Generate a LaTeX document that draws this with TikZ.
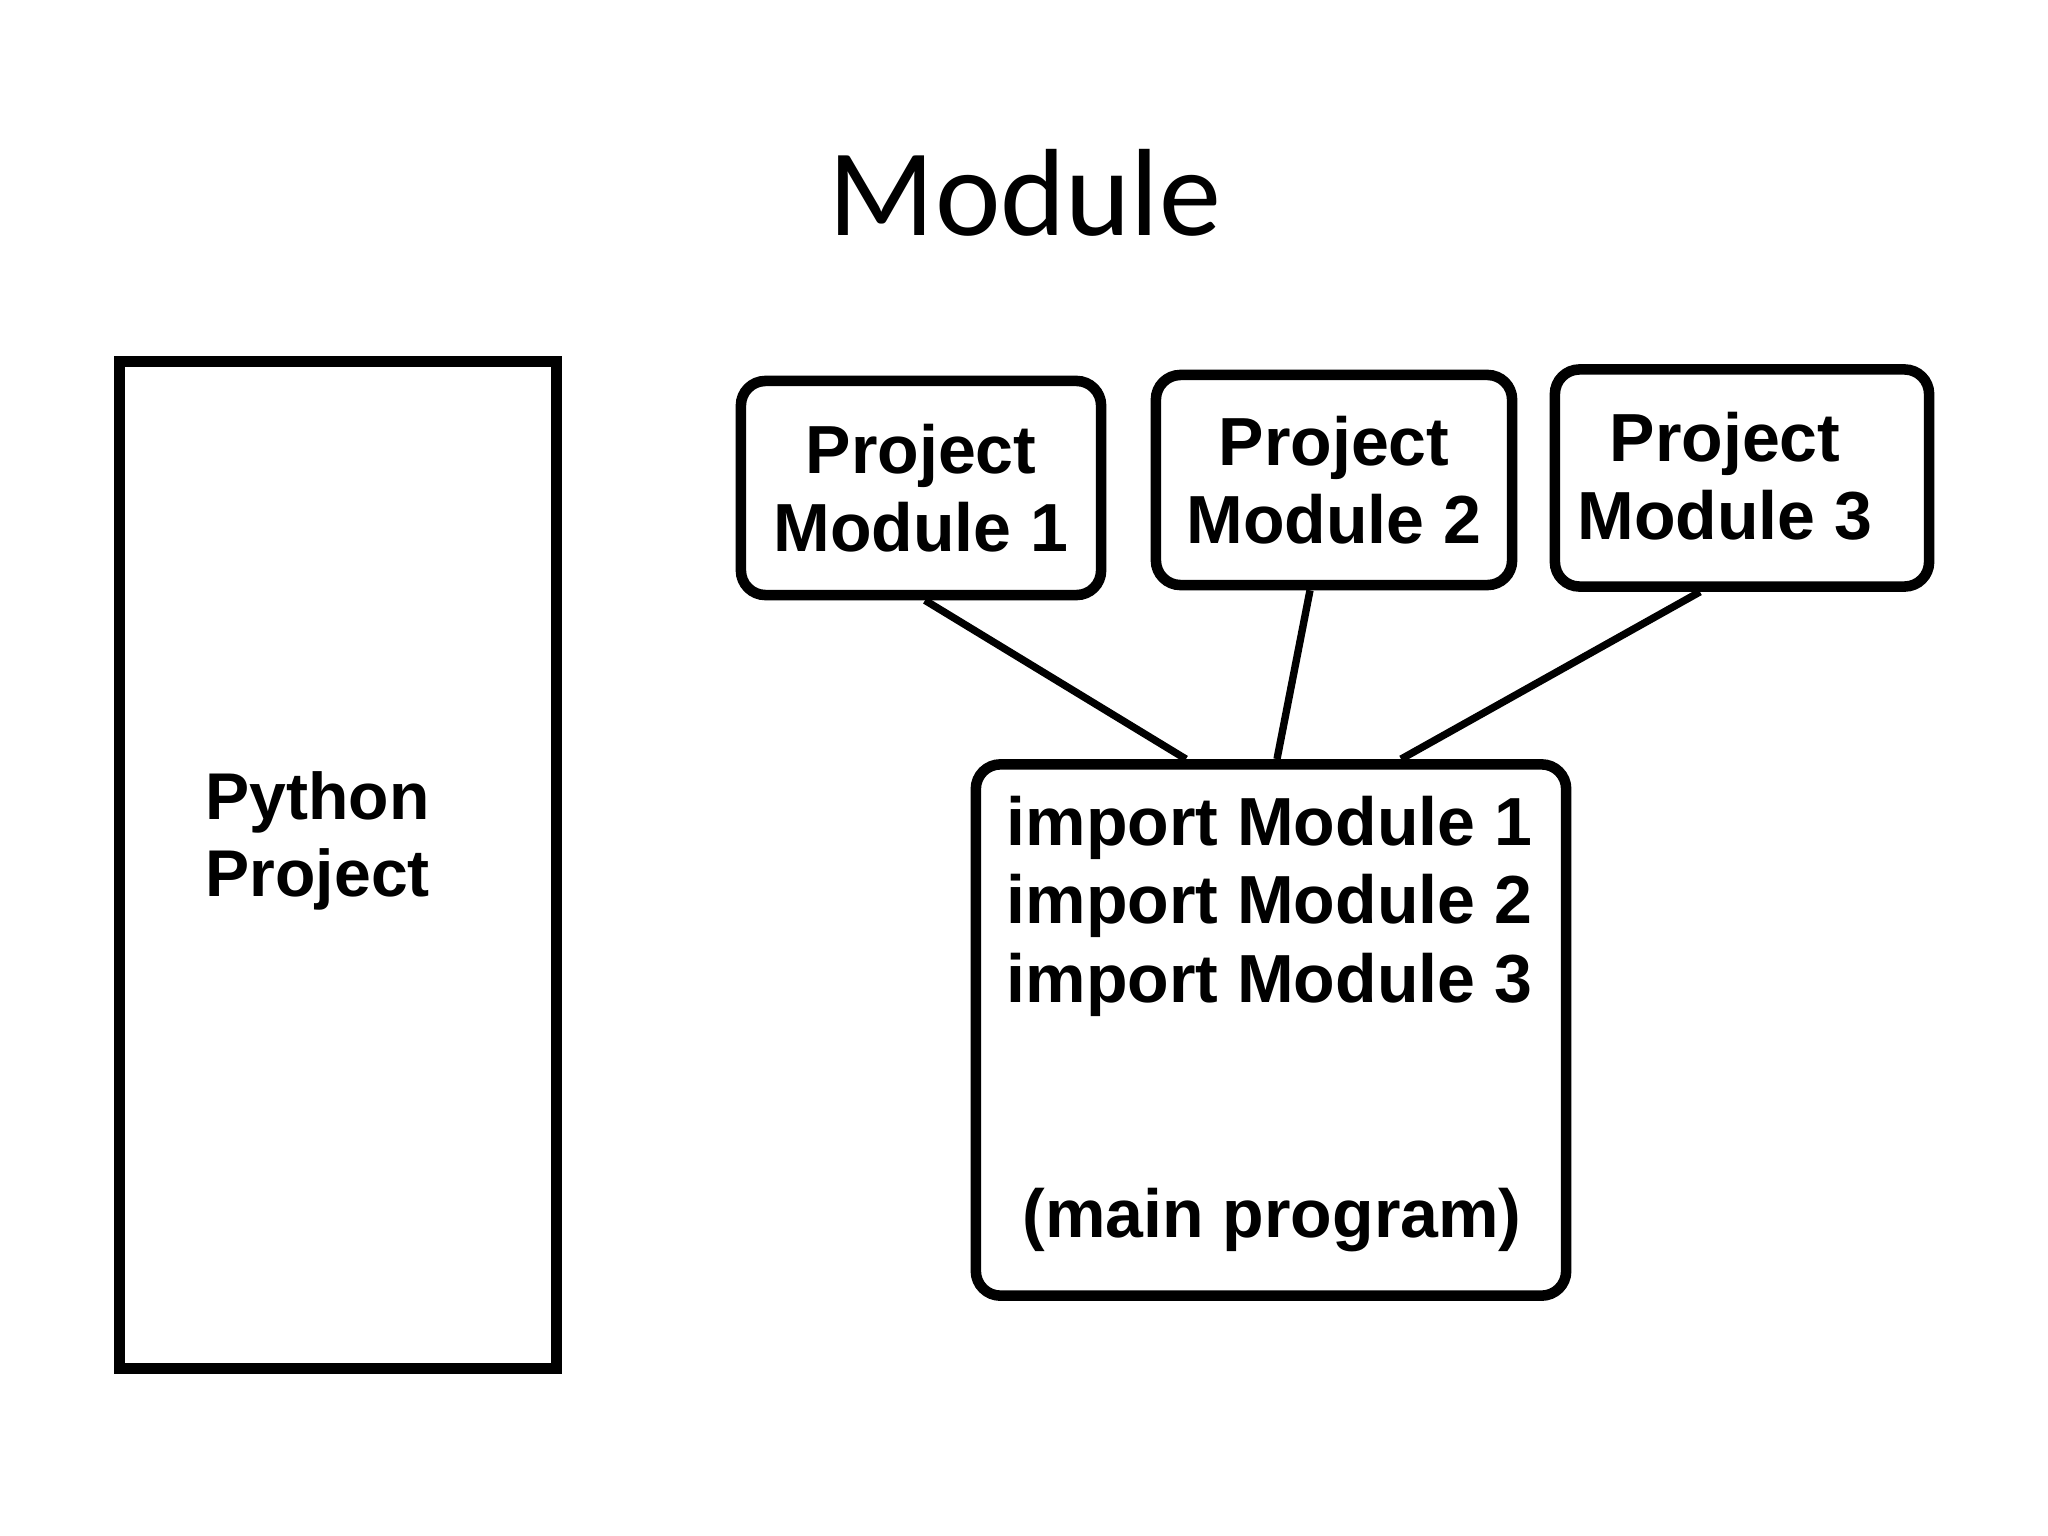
\documentclass[tikz,border=0pt]{standalone}
\usepackage{fontspec}
\setmainfont{Liberation Sans}
\newfontfamily\titlefont{Carlito}
\begin{document}
\begin{tikzpicture}[x=0.01cm,y=-0.01cm,
  box/.style={draw, line width=3pt, rounded corners=7pt, inner sep=0pt, align=center,
    font=\bfseries\fontsize{19.35}{22.2}\selectfont},
  txt/.style={inner sep=0pt, align=center, font=\bfseries\fontsize{19.35}{22.2}\selectfont},
  ptxt/.style={inner sep=0pt, font=\bfseries\fontsize{18.8}{22}\selectfont},
  link/.style={line width=2.1pt}]
\useasboundingbox (0,0) rectangle (2048,1536);
\fill[white] (0,0) rectangle (2048,1536);

\node[inner sep=0pt, anchor=base, font=\titlefont\fontsize{35.3}{40}\selectfont] (title) at (1025,235) {Module};

\node[draw, line width=3.1pt, inner sep=0pt, minimum width=4.36cm, minimum height=10.07cm] (proj) at (338,865) {};
\node[ptxt, anchor=base west] (py1) at (205,819) {Python};
\node[ptxt, anchor=base west] (py2) at (205,896) {Project};

\node[box, minimum width=3.60cm, minimum height=2.14cm] (pm1) at (921,488) {Project\\Module 1};
\node[box, minimum width=3.56cm, minimum height=2.10cm] (pm2) at (1334,480) {Project\\Module 2};
\node[box, minimum width=3.74cm, minimum height=2.17cm] (pm3) at (1742,478) {};
\node[txt] (pm3t) at (1725,476) {Project\\Module 3};

\node[box, minimum width=5.90cm, minimum height=5.31cm] (main) at (1271,1030) {};
\node[txt, anchor=base west] (im1) at (1006,845) {import Module 1};
\node[txt, anchor=base west] (im2) at (1006,923) {import Module 2};
\node[txt, anchor=base west] (im3) at (1006,1002) {import Module 3};
\node[txt, anchor=base] (mp) at (1272,1237) {(main program)};

\draw[link] ([xshift=0.04cm]pm1.south) -- ([xshift=-0.85cm]main.north);
\draw[link] ([xshift=-0.24cm]pm2.south) -- ([xshift=0.06cm]main.north);
\draw[link] ([xshift=-0.42cm]pm3.south) -- ([xshift=1.30cm]main.north);
\end{tikzpicture}
\end{document}
